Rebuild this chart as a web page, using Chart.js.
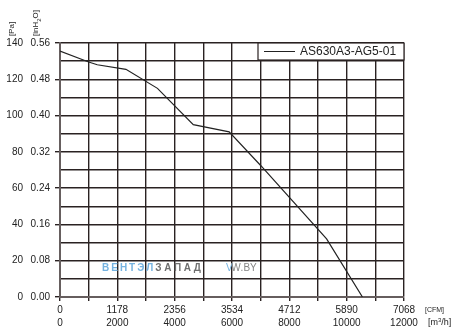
<!DOCTYPE html>
<html lang="ru">
  <head>
    <meta charset="UTF-8" />
    <title>AS630A3-AG5-01</title>
    <script src="https://cdn.jsdelivr.net/npm/chart.js"></script>
    <style>
      html, body { margin: 0; padding: 0; background: #fff; }
      #wrap { width: 456px; height: 331px; position: relative; }
    </style>
  </head>
  <body>
    <div id="wrap"><canvas id="curve"></canvas></div>

    <script>
      // fan curve, airflow in m3/h against static pressure in Pa
      const flowM3h = [0, 1000, 1300, 2300, 3400, 4650, 5900, 7000, 9300, 10550];
      const pressurePa = [135.5, 129.5, 128, 125.5, 115, 95, 91, 72.5, 32, 0];

      const seriesName = "AS630A3-AG5-01";

      // axis labels (two unit rows on each axis)
      const m3hTicks = [0, 2000, 4000, 6000, 8000, 10000, 12000];
      const cfmLabels = ["0", "1178", "2356", "3534", "4712", "5890", "7068"];
      const paTicks = [0, 20, 40, 60, 80, 100, 120, 140];
      const inH2OLabels = ["0.00", "0.08", "0.16", "0.24", "0.32", "0.40", "0.48", "0.56"];

      const FONT = '"Liberation Sans", Arial, sans-serif';
      const gridColor = "#2a2222";
      const axisColor = "#665e5e";

      const labelsPlugin = {
        id: "unitLabels",
        afterDraw(chart) {
          const ctx = chart.ctx;
          const x = chart.scales.x;
          const y = chart.scales.y;
          const area = chart.chartArea;
          ctx.save();
          ctx.fillStyle = "#222";
          ctx.font = "10px " + FONT;
          ctx.textBaseline = "middle";

          // left: Pa and inH2O columns
          ctx.textAlign = "right";
          paTicks.forEach((v, i) => {
            const py = y.getPixelForValue(v);
            ctx.fillText(String(v), 23, py);
            ctx.fillText(inH2OLabels[i], 50, py);
          });

          // bottom: CFM and m3/h rows
          ctx.textAlign = "center";
          m3hTicks.forEach((v, i) => {
            const px = x.getPixelForValue(v);
            ctx.fillText(cfmLabels[i], px, area.bottom + 13);
            ctx.fillText(String(v), px, area.bottom + 26);
          });

          // unit tags on the right of the x axis
          ctx.textAlign = "left";
          ctx.font = "7px " + FONT;
          ctx.fillText("[CFM]", 425, area.bottom + 13);
          ctx.font = "9px " + FONT;
          ctx.fillText("[m", 428, area.bottom + 26);
          let w = ctx.measureText("[m").width;
          ctx.font = "6px " + FONT;
          ctx.fillText("3", 428 + w, area.bottom + 23);
          const w3 = ctx.measureText("3").width;
          ctx.font = "9px " + FONT;
          ctx.fillText("/h]", 428 + w + w3, area.bottom + 26);

          // rotated unit tags above the y labels
          ctx.save();
          ctx.translate(12, 29);
          ctx.rotate(-Math.PI / 2);
          ctx.font = "8px " + FONT;
          ctx.textAlign = "center";
          ctx.fillText("[Pa]", 0, 0);
          ctx.restore();

          ctx.save();
          ctx.translate(36, 36);
          ctx.rotate(-Math.PI / 2);
          ctx.font = "8px " + FONT;
          ctx.textAlign = "left";
          ctx.fillText("[inH", 0, 0);
          w = ctx.measureText("[inH").width;
          ctx.font = "6px " + FONT;
          ctx.fillText("2", w, 3);
          const w2 = ctx.measureText("2").width;
          ctx.font = "8px " + FONT;
          ctx.fillText("O]", w + w2, 0);
          ctx.restore();

          // watermark
          ctx.font = "bold 10px " + FONT;
          ctx.textAlign = "left";
          let cx = 102;
          const wy = 268;
          const drawSpaced = (txt, color, gap) => {
            ctx.fillStyle = color;
            for (const ch of txt) {
              ctx.fillText(ch, cx, wy);
              cx += ctx.measureText(ch).width + gap;
            }
          };
          drawSpaced("ВЕНТЭЛ", "#74b2e0", 2);
          drawSpaced("ЗАПАД", "#6f6f6f", 2.6);
          cx = 226;
          ctx.font = "10px " + FONT;
          drawSpaced("V", "#74b2e0", -1.5);
          drawSpaced("W.BY", "#858585", 0);

          // legend box in the upper right corner of the plot
          const bw = 146, bh = 17;
          const bx = area.right - bw, by = area.top;
          ctx.fillStyle = "#fff";
          ctx.fillRect(bx, by, bw, bh);
          ctx.strokeStyle = gridColor;
          ctx.lineWidth = 1.2;
          ctx.strokeRect(bx, by, bw, bh);
          ctx.beginPath();
          ctx.moveTo(bx + 6, by + bh / 2);
          ctx.lineTo(bx + 37, by + bh / 2);
          ctx.strokeStyle = "#222";
          ctx.lineWidth = 1;
          ctx.stroke();
          ctx.fillStyle = "#222";
          ctx.font = "12px " + FONT;
          ctx.textBaseline = "middle";
          ctx.fillText(seriesName, bx + 42, by + bh / 2 + 0.5);
          ctx.restore();
        },
      };

      new Chart(document.getElementById("curve"), {
        type: "line",
        data: {
          datasets: [
            {
              label: seriesName,
              data: flowM3h.map((f, i) => ({ x: f, y: pressurePa[i] })),
              borderColor: "#222",
              borderWidth: 1.2,
              pointRadius: 0,
              tension: 0,
              fill: false,
            },
          ],
        },
        options: {
          responsive: true,
          maintainAspectRatio: false,
          animation: false,
          layout: { padding: { left: 55, top: 43, right: 52, bottom: 30 } },
          plugins: {
            legend: { display: false },
            tooltip: { enabled: false },
          },
          scales: {
            x: {
              type: "linear",
              min: 0,
              max: 12000,
              ticks: { display: false, stepSize: 1000 },
              grid: { color: gridColor, lineWidth: 1.4, tickLength: 4, tickColor: gridColor },
              border: { color: axisColor, width: 2 },
            },
            y: {
              min: 0,
              max: 140,
              ticks: { display: false, stepSize: 10 },
              grid: {
                color: gridColor,
                lineWidth: 1.4,
                tickLength: 5,
                tickColor: (c) => (c.tick && c.tick.value % 20 === 0 ? gridColor : "rgba(0,0,0,0)"),
              },
              border: { color: axisColor, width: 2 },
            },
          },
        },
        plugins: [labelsPlugin],
      });
    </script>
  </body>
</html>
